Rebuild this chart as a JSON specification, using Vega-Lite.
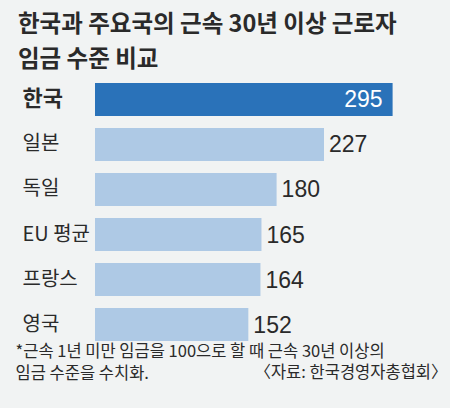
{
  "$schema": "https://vega.github.io/schema/vega-lite/v6.json",
  "width": 343,
  "height": 270,
  "autosize": {"type": "none"},
  "padding": {"left": 95, "top": 77, "right": 12, "bottom": 61},
  "background": "#f1f3f3",
  "config": {"view": {"stroke": null}, "font": "Noto Sans CJK KR"},
  "title": {
    "text": ["한국과 주요국의 근속 30년 이상 근로자", "임금 수준 비교"],
    "anchor": "start",
    "frame": "group",
    "dx": -77,
    "offset": 6,
    "fontSize": 23.5,
    "fontWeight": "bold",
    "color": "#2a2a2a",
    "lineHeight": 35,
    "font": "Noto Sans CJK KR"
  },
  "data": {
    "values": [
      {"country": "한국", "value": 295},
      {"country": "일본", "value": 227},
      {"country": "독일", "value": 180},
      {"country": "EU 평균", "value": 165},
      {"country": "프랑스", "value": 164},
      {"country": "영국", "value": 152}
    ]
  },
  "encoding": {
    "y": {
      "field": "country",
      "type": "nominal",
      "sort": null,
      "scale": {"paddingInner": 0.267, "paddingOuter": 0.133},
      "axis": {
        "title": "〈자료: 한국경영자총협회〉",
        "titleAngle": 0,
        "titleAlign": "right",
        "titleBaseline": "alphabetic",
        "titleX": 352,
        "titleY": 300,
        "titleFontSize": 16.5,
        "titleFontWeight": "normal",
        "titleColor": "#2a2a2a",
        "titleFont": "Noto Sans CJK KR",
        "domain": false,
        "ticks": false,
        "tickSize": 0,
        "labelPadding": 73,
        "labelAlign": "left",
        "labelFont": "Noto Sans CJK KR",
        "labelColor": "#2a2a2a",
        "labelFontSize": {"condition": {"test": "datum.value === '한국'", "value": 22}, "value": 20},
        "labelFontWeight": {"condition": {"test": "datum.value === '한국'", "value": "bold"}, "value": "normal"}
      }
    },
    "x": {
      "field": "value",
      "type": "quantitative",
      "scale": {"domain": [0, 340], "nice": false},
      "axis": {
        "title": ["*근속 1년 미만 임금을 100으로 할 때 근속 30년 이상의", "임금 수준을 수치화."],
        "labels": false,
        "ticks": false,
        "tickSize": 0,
        "domain": false,
        "grid": false,
        "titleAlign": "left",
        "titleBaseline": "alphabetic",
        "titleX": -80,
        "titleY": 9,
        "titleLineHeight": 22,
        "titleFontSize": 16.5,
        "titleFontWeight": "normal",
        "titleColor": "#2a2a2a",
        "titleFont": "Noto Sans CJK KR"
      }
    }
  },
  "layer": [
    {
      "mark": {"type": "bar"},
      "encoding": {
        "color": {"condition": {"test": "datum.country === '한국'", "value": "#2a72b9"}, "value": "#aec9e5"}
      }
    },
    {
      "transform": [{"filter": "datum.country === '한국'"}],
      "mark": {"type": "text", "align": "right", "baseline": "middle", "dx": -10, "dy": 1, "color": "#ffffff", "fontSize": 23, "font": "Liberation Sans"},
      "encoding": {"text": {"field": "value", "type": "quantitative"}}
    },
    {
      "transform": [{"filter": "datum.country !== '한국'"}],
      "mark": {"type": "text", "align": "left", "baseline": "middle", "dx": 5, "dy": 1, "color": "#2a2a2a", "fontSize": 23, "font": "Liberation Sans"},
      "encoding": {"text": {"field": "value", "type": "quantitative"}}
    }
  ]
}
